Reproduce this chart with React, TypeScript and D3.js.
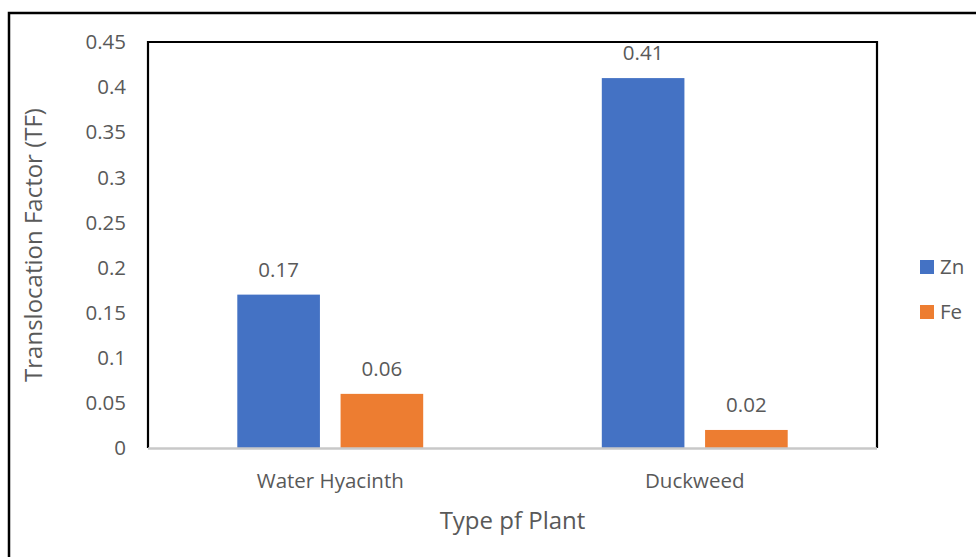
import * as d3 from 'd3';

const categories = ['Water Hyacinth', 'Duckweed'];
const seriesNames = ['Zn', 'Fe'];
const znValues = [0.17, 0.41];
const feValues = [0.06, 0.02];
const yTicks = [0, 0.05, 0.1, 0.15, 0.2, 0.25, 0.3, 0.35, 0.4, 0.45];
const colors = ['#4472C4', '#ED7D31'];

const W = 976;
const H = 557;
const left = 148;
const right = 877;
const top = 42;
const bottom = 448;
const FONT = '"Open Sans", sans-serif';
const TEXT = '#595959';

export default function App() {
  const values = [znValues, feValues];

  const y = d3.scaleLinear().domain([0, 0.45]).range([bottom, top]);
  const x0 = d3.scaleBand<string>()
    .domain(categories)
    .range([left, right])
    .paddingInner(0.49)
    .paddingOuter(0.245);
  const x1 = d3.scaleBand<string>()
    .domain(seriesNames)
    .range([0, x0.bandwidth()])
    .paddingInner(0.2);

  const fmt = (v: number) => String(+v.toFixed(2));

  return (
    <svg width={W} height={H} style={{ position: 'absolute', left: 0, top: 0, background: '#fff' }}>
      {/* outer chart frame */}
      <rect x={9} y={13} width={1000} height={600} fill="#fff" stroke="#000" strokeWidth={2.5} />

      {/* y tick labels */}
      {yTicks.map(t => (
        <text key={t} x={126} y={y(t)} dy="0.35em" textAnchor="end"
          fontFamily={FONT} fontSize={20.5} fill={TEXT}>{fmt(t)}</text>
      ))}

      {/* bars */}
      {categories.map((c, i) => (
        <g key={c} transform={`translate(${x0(c)},0)`}>
          {seriesNames.map((s, j) => {
            const v = values[j][i];
            const bx = x1(s)!;
            return (
              <g key={s}>
                <rect x={bx} y={y(v)} width={x1.bandwidth()} height={y(0) - y(v)} fill={colors[j]} />
                <text x={bx + x1.bandwidth() / 2} y={y(v) - 18} textAnchor="middle"
                  fontFamily={FONT} fontSize={20.5} fill={TEXT}>{fmt(v)}</text>
              </g>
            );
          })}
        </g>
      ))}

      {/* plot area frame */}
      <path d={`M${left},${bottom}V${top}H${right}V${bottom}`} fill="none" stroke="#000" strokeWidth={2.2} />
      <line x1={left} x2={right} y1={bottom + 0.5} y2={bottom + 0.5} stroke="#c8c8c8" strokeWidth={2.5} />

      {/* category labels */}
      {categories.map(c => (
        <text key={c} x={x0(c)! + x0.bandwidth() / 2} y={481} dy="0.35em" textAnchor="middle"
          fontFamily={FONT} fontSize={20.5} fill={TEXT}>{c}</text>
      ))}

      {/* axis titles */}
      <text x={(left + right) / 2} y={521} dy="0.35em" textAnchor="middle"
        fontFamily={FONT} fontSize={24} fill={TEXT}>Type pf Plant</text>
      <text transform={`translate(34,${(top + bottom) / 2}) rotate(-90)`} dy="0.35em" textAnchor="middle"
        fontFamily={FONT} fontSize={24} fill={TEXT}>Translocation Factor (TF)</text>

      {/* legend */}
      {seriesNames.map((s, j) => (
        <g key={s} transform={`translate(920,${267 + j * 45})`}>
          <rect x={0} y={-7} width={14} height={14} fill={colors[j]} />
          <text x={20} y={0} dy="0.35em" fontFamily={FONT} fontSize={20.5} fill={TEXT}>{s}</text>
        </g>
      ))}
    </svg>
  );
}
